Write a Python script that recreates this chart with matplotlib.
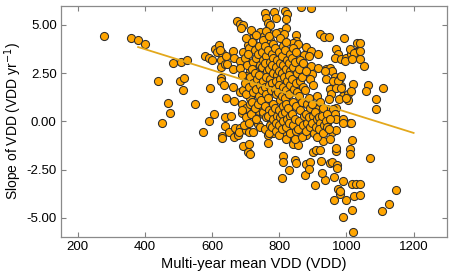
import numpy as np
import matplotlib
matplotlib.use("Agg")
import matplotlib.pyplot as plt

edge_vdd = [279, 359, 380, 400, 485, 507, 527, 438, 504, 517, 515, 468, 550, 476, 451, 572, 590,
            578, 591, 599, 608, 622, 615, 631, 626, 626, 639, 595, 627, 626, 635, 607, 639, 639, 629, 643, 631,
            674, 683, 692, 687, 717, 759, 762, 766, 784, 789, 743, 722, 754, 774, 774, 708, 727, 742,
            625, 643, 662, 665, 682, 645, 661, 682, 707, 712, 727, 702, 717, 662, 682, 666, 690, 702, 712,
            657, 689, 740, 752, 817, 823, 821, 773, 802, 864, 896,
            819, 813, 849, 849, 841, 856, 922, 932, 948, 994, 881, 874, 895, 890, 915, 970, 975, 965, 985,
            1000, 1014, 1029, 1011, 1032, 895, 916, 898, 940, 950, 957, 940, 965, 982, 975, 985, 970, 1019,
            950, 955, 948, 989, 1006, 1006, 969, 957, 942, 932,
            936, 960, 974, 984, 969, 984, 979, 1015, 998, 1023, 996, 1016,
            1039, 1039, 1039, 1051, 1064, 1059, 1108, 1088, 1088,
            911, 921, 941, 960, 965, 969, 989, 1011, 931, 941]
edge_slope = [4.41, 4.31, 4.22, 4.01, 3.01, 3.06, 3.20, 2.09, 2.09, 2.27, 1.62, 0.93, 0.90, 0.43, -0.10, -0.55, 0.00,
              3.39, 3.27, 3.20, 3.73, 3.94, 3.61, 3.56, 3.16, 2.84, 2.96, 1.73, 2.23, 2.10, 1.88, 0.40, 0.24, -0.25, -0.76, 1.21, -0.88,
              5.20, 5.07, 5.00, 4.82, 4.72, 5.64, 5.34, 5.12, 5.69, 5.38, 4.65, 4.34, 4.42, 4.51, 4.20, 3.96, 3.96, 3.82,
              3.68, 3.39, 3.65, 3.30, 3.13, 2.99, 2.70, 2.78, 3.04, 2.61, 2.61, 2.35, 2.18, 1.78, 1.54, 1.05, 0.88, 0.67, 1.23,
              0.30, 0.41, 0.53, 0.36, 5.72, 5.55, 5.29, 4.98, 4.65, 5.90, 5.85,
              4.82, 4.55, 4.48, 4.17, 4.05, 4.03, 4.51, 4.37, 4.37, 4.34, 3.85, 3.42, 3.65, 3.39, 3.47, 3.77, 3.51, 3.27, 3.21,
              3.30, 3.47, 3.59, 3.73, 4.08, 2.87, 2.75, 2.44, 2.70, 2.75, 2.61, 2.18, 2.30, 2.27, 2.01, 1.83, 1.83, 1.92,
              1.66, 1.44, 1.18, 1.31, 1.44, 1.09, 0.71, 0.53, 0.36, 0.57,
              2.61, 2.09, 2.09, 2.35, 1.75, 1.75, 1.14, 1.57, 1.23, 3.53, 3.13, 3.25,
              4.08, 3.65, 3.21, 2.87, 1.88, 1.57, 1.75, 1.14, 0.62,
              0.62, 0.45, 0.62, 0.62, 0.36, 0.10, 0.10, -0.07, 0.02, -0.07]

low_vdd = [1016, 1011, 1011, 1016, 1030, 1024, 1016, 989, 1021, 1000, 963, 980, 975, 989, 962, 936, 907,
           927, 878, 828, 811, 811, 848, 851, 881, 891, 889, 925, 950, 958, 971, 900, 909, 920, 879, 930,
           811, 831, 841, 856, 900, 958, 968, 989, 1014,
           693, 711, 708, 713, 768, 809, 970, 970, 1071, 1148, 1128, 1105, 1039, 1039, 981, 972,
           651, 667, 684, 664, 678, 680, 702, 710, 722, 737, 766, 781, 776]
low_slope = [-0.95, -1.42, -1.68, -3.23, -3.23, -3.89, -4.58, -4.96, -5.74, -4.06, -4.05, -3.75, -3.49, -3.10, -2.89, -3.06, -3.28,
             -2.68, -2.80, -2.51, -1.82, -2.11, -2.02, -2.16, -2.20, -2.11, -2.45, -2.06, -2.16, -2.11, -2.28, -1.59, -1.50, -1.47, -0.73, -1.04,
             -0.64, -0.73, -1.16, -1.25, -0.47, -0.55, -0.47, -0.09, -0.09,
             -1.26, -1.19, -1.57, -1.71, -1.14, -2.96, -1.54, -1.40, -1.92, -3.54, -4.27, -4.62, -3.23, -3.84, -3.61, -2.44,
             -0.55, -0.33, -0.33, -0.81, -0.73, -0.55, -0.43, -0.55, -0.55, -0.12, -0.73, -0.61, -0.12]

# dense core, estimated column by column
core_vdd = [691, 688, 693, 690, 694,
            701, 699, 703, 698, 702, 700,
            711, 708, 712, 709, 713, 710,
            719, 722, 718, 721, 723, 720, 717,
            731, 728, 732, 729, 733, 730, 727, 731,
            741, 738, 742, 739, 743, 740, 737, 742,
            751, 748, 752, 749, 753, 750, 747, 751,
            761, 758, 762, 759, 763, 760, 757, 761, 758, 762, 759,
            771, 768, 772, 769, 773, 770, 767, 771, 768, 772, 769,
            781, 778, 782, 779, 783, 780, 777, 781, 778, 782, 779,
            791, 788, 792, 789, 793, 790, 787, 791, 788, 792, 789, 790,
            801, 798, 802, 799, 803, 800, 797, 801, 798, 802, 799, 800,
            811, 808, 812, 809, 813, 810, 807, 811, 808, 812, 809,
            821, 818, 822, 819, 823, 820, 817, 821, 818, 822, 819, 820,
            831, 828, 832, 829, 833, 830, 827, 831, 828, 832,
            841, 838, 842, 839, 843, 840, 837, 841,
            851, 848, 852, 849, 853, 850, 847, 851, 848,
            861, 858, 862, 859, 863, 860, 857,
            871, 868, 872, 869, 873, 870, 867,
            881, 878, 882, 879, 883, 880,
            891, 888, 892, 889, 893,
            901, 898, 902, 899, 903,
            911, 908, 912, 909, 913,
            921, 918, 922, 919,
            931, 928, 932, 929,
            941, 938, 942,
            951, 948, 952]
core_slope = [3.6, 2.4, 1.6, 0.6, -0.2,
              4.3, 3.3, 2.9, 2.0, 1.4, 0.2,
              3.8, 3.5, 2.3, 1.8, 0.9, -0.1,
              4.1, 3.1, 2.7, 2.0, 1.5, 1.0, 0.4,
              4.5, 3.7, 3.3, 2.5, 2.2, 1.7, 0.7, 0.1,
              3.9, 3.5, 2.9, 2.4, 1.9, 1.3, 0.9, -0.3,
              4.2, 3.6, 3.2, 2.8, 2.1, 1.6, 1.1, 0.5,
              4.7, 3.9, 3.4, 3.0, 2.6, 2.3, 1.8, 1.4, 0.8, 0.2, -0.4,
              4.4, 3.7, 3.1, 2.7, 2.2, 1.9, 1.2, 0.6, 0.3, -0.2, -0.6,
              4.0, 3.5, 3.3, 2.9, 2.5, 2.0, 1.6, 0.9, 0.5, 0.1, -0.3,
              4.6, 3.8, 3.2, 2.8, 2.4, 2.1, 1.7, 1.4, 0.7, 0.3, -0.1, -0.5,
              4.3, 3.6, 3.0, 2.6, 2.2, 1.9, 1.5, 1.1, 0.6, 0.2, -0.2, -0.7,
              3.9, 3.4, 2.9, 2.5, 2.3, 1.8, 1.3, 0.8, 0.4, 0.0, -0.4,
              4.1, 3.7, 3.2, 2.7, 2.1, 1.6, 1.2, 0.9, 0.5, 0.1, -0.3, -0.9,
              3.5, 3.0, 2.6, 2.4, 1.9, 1.4, 0.7, 0.3, -0.1, -0.6,
              3.8, 3.3, 2.8, 2.2, 1.7, 1.0, 0.4, -0.2,
              3.6, 3.1, 2.5, 2.0, 1.5, 0.8, 0.1, -0.5, -0.9,
              3.2, 2.7, 2.1, 1.3, 0.6, 0.0, -0.4,
              3.0, 2.3, 1.8, 1.0, 0.3, -0.2, -0.8,
              2.6, 1.6, 0.9, 0.4, -0.1, -0.5,
              2.2, 1.2, 0.7, 0.2, -0.3,
              1.9, 0.9, 0.3, -0.1, -0.6,
              1.3, 0.5, 0.1, -0.3, -0.8,
              1.0, 0.2, -0.1, -0.4,
              0.7, 0.3, -0.2, -0.6,
              0.4, 0.0, -0.3,
              0.1, -0.4, -0.9]

# fitted trend line end points
fit_vdd = [380, 1200]
fit_slope = [3.85, -0.60]

vdd = np.array(edge_vdd + low_vdd + core_vdd, dtype=float)
slope = np.array(edge_slope + low_slope + core_slope, dtype=float)

plt.rcParams['font.family'] = ['Liberation Sans', 'DejaVu Sans']

fig = plt.figure(figsize=(4.54, 2.78), dpi=100)
ax = fig.add_axes([0.134, 0.147, 0.851, 0.833])

ax.scatter(vdd, slope, s=34, facecolor='#FFA500', edgecolor='#2e2e2e', linewidth=0.75, zorder=2)
ax.plot(fit_vdd, fit_slope, color='#E3A81C', linewidth=1.3, zorder=3)

ax.set_xlim(150, 1300)
ax.set_ylim(-6, 6)
ax.set_xticks([200, 400, 600, 800, 1000, 1200])
ax.set_yticks([5, 2.5, 0, -2.5, -5])
ax.set_yticklabels(['5.00', '2.50', '0.00', '-2.50', '-5.00'])
ax.tick_params(direction='in', top=True, right=True, length=3.5, width=0.8,
               color='#808080', labelsize=9.5, pad=3)
for sp in ax.spines.values():
    sp.set_color('#8a8a8a')
    sp.set_linewidth(0.9)

ax.set_xlabel('Multi-year mean VDD (VDD)', fontsize=10.5, labelpad=3)
ax.set_ylabel('Slope of VDD (VDD yr$^{-1}$)', fontsize=10, labelpad=2)

fig.savefig('out.png', dpi=100)
